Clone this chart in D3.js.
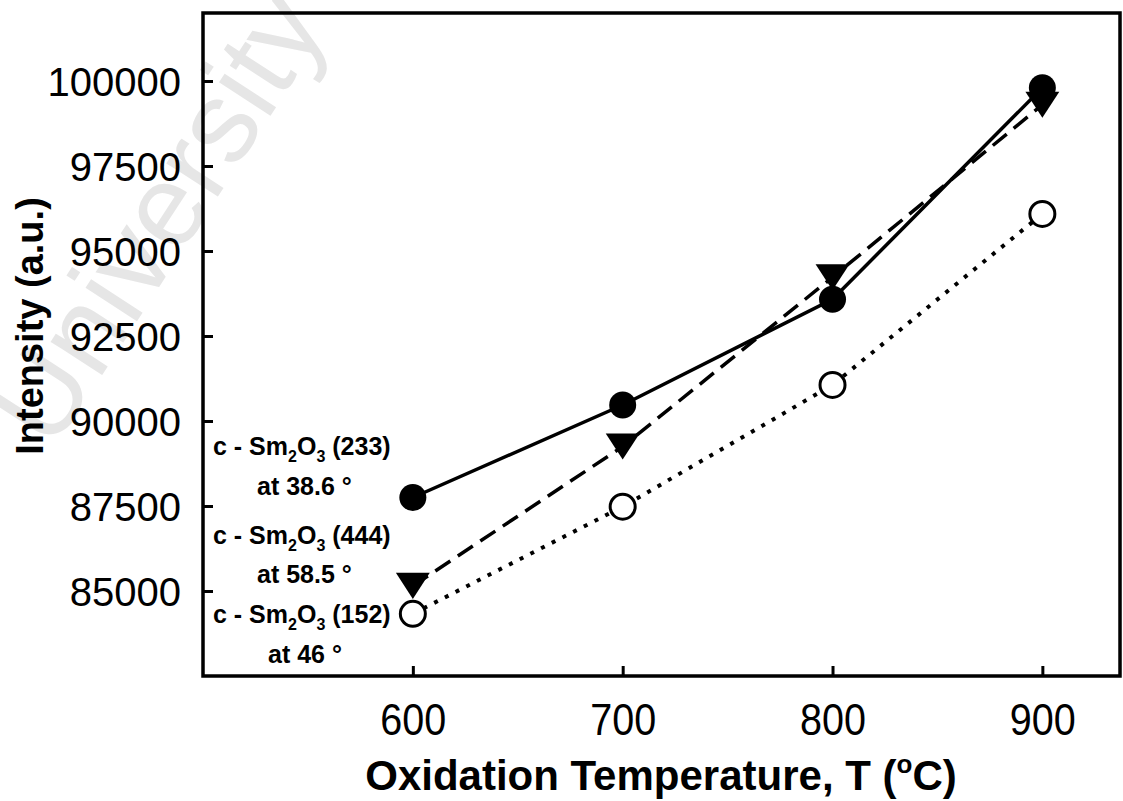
<!DOCTYPE html>
<html>
<head>
<meta charset="utf-8">
<script src="https://cdn.jsdelivr.net/npm/d3@7"></script>
<style>
  html, body { margin: 0; padding: 0; background: #fff; }
  svg { display: block; font-family: "Liberation Sans", Arial, sans-serif; }
</style>
</head>
<body>
<svg id="chart" width="1123" height="801"></svg>
<script>
// Oxidation temperature (°C)
const temperatures = [600, 700, 800, 900];
// Peak intensities (a.u.) of the c-Sm2O3 reflections
const peak233 = [87750, 90470, 93580, 99800];   // at 38.6°
const peak444 = [85150, 89250, 94230, 99300];   // at 58.5°
const peak152 = [84330, 87480, 91060, 96090];   // at 46°

const xTicks = [600, 700, 800, 900];
const yTicks = [85000, 87500, 90000, 92500, 95000, 97500, 100000];

const svg = d3.select("#chart");
const W = 1123, H = 801;
const plot = { left: 203, right: 1120, top: 13, bottom: 676 };

const x = d3.scaleLinear().domain([500, 937]).range([plot.left, plot.right]);
const y = d3.scaleLinear().domain([82500, 102000]).range([plot.bottom, plot.top]);

svg.append("rect").attr("width", W).attr("height", H).attr("fill", "#fff");

// faint background lettering
svg.append("text")
  .attr("transform", "translate(52,452) rotate(-57)")
  .attr("font-size", 116)
  .attr("fill", "#e6e6e6")
  .attr("font-family", "Liberation Sans, Arial, sans-serif")
  .text("University");

// axes with inward ticks
const yAxis = d3.axisLeft(y).tickValues(yTicks).tickSize(-10).tickPadding(0).tickFormat(d3.format("d"));
const xAxis = d3.axisBottom(x).tickValues(xTicks).tickSize(-10).tickPadding(0).tickFormat(d3.format("d"));

const gy = svg.append("g").attr("transform", `translate(${plot.left},0)`).call(yAxis);
gy.select(".domain").remove();
gy.selectAll(".tick line").attr("stroke", "#000").attr("stroke-width", 3);
gy.selectAll(".tick text")
  .attr("x", -22).attr("dy", "0.36em")
  .attr("font-size", 40).attr("fill", "#000")
  .attr("font-family", "Liberation Sans, Arial, sans-serif");

const gx = svg.append("g").attr("transform", `translate(0,${plot.bottom})`).call(xAxis);
gx.select(".domain").remove();
gx.selectAll(".tick line").attr("stroke", "#000").attr("stroke-width", 3);
gx.selectAll(".tick text")
  .attr("y", 59).attr("dy", 0)
  .attr("font-size", 44).attr("fill", "#000")
  .attr("font-family", "Liberation Sans, Arial, sans-serif")
  .attr("textLength", 66).attr("lengthAdjust", "spacingAndGlyphs");

// frame
svg.append("rect")
  .attr("x", plot.left).attr("y", plot.top)
  .attr("width", plot.right - plot.left).attr("height", plot.bottom - plot.top)
  .attr("fill", "none").attr("stroke", "#000").attr("stroke-width", 3.5);

// axis titles
svg.append("text")
  .attr("transform", `translate(43,326) rotate(-90)`)
  .attr("text-anchor", "middle")
  .attr("font-size", 38).attr("font-weight", "bold").attr("fill", "#000")
  .text("Intensity (a.u.)");

const xt = svg.append("text")
  .attr("x", 661).attr("y", 790)
  .attr("text-anchor", "middle")
  .attr("font-size", 42).attr("font-weight", "bold").attr("fill", "#000");
xt.append("tspan").text("Oxidation Temperature, T (");
xt.append("tspan").attr("font-size", 26).attr("dy", -17).text("o");
xt.append("tspan").attr("dy", 17).text("C)");

// series
const line = d3.line().x((d, i) => x(temperatures[i])).y(d => y(d));
const rows = (vals) => vals.map((v, i) => ({ t: temperatures[i], v }));

// dotted series, open circles
svg.append("path").datum(peak152).attr("d", line)
  .attr("fill", "none").attr("stroke", "#000").attr("stroke-width", 4)
  .attr("stroke-dasharray", "4,8");
svg.append("g").selectAll("circle").data(rows(peak152)).join("circle")
  .attr("cx", d => x(d.t)).attr("cy", d => y(d.v)).attr("r", 12.5)
  .attr("fill", "#fff").attr("stroke", "#000").attr("stroke-width", 3);

// dashed series, down-pointing triangles
svg.append("path").datum(peak444).attr("d", line)
  .attr("fill", "none").attr("stroke", "#000").attr("stroke-width", 3.5)
  .attr("stroke-dasharray", "18,9");
const downTriangle = {
  draw(context, size) {
    const w = Math.sqrt(size) * 1.3, h = Math.sqrt(size);
    context.moveTo(-w / 2, -h / 2);
    context.lineTo(w / 2, -h / 2);
    context.lineTo(0, h / 2);
    context.closePath();
  }
};
const tri = d3.symbol().type(downTriangle).size(680);
svg.append("g").selectAll("path").data(rows(peak444)).join("path")
  .attr("d", tri)
  .attr("transform", d => `translate(${x(d.t)},${y(d.v)})`)
  .attr("fill", "#000");

// solid series, filled circles
svg.append("path").datum(peak233).attr("d", line)
  .attr("fill", "none").attr("stroke", "#000").attr("stroke-width", 3.5);
svg.append("g").selectAll("circle").data(rows(peak233)).join("circle")
  .attr("cx", d => x(d.t)).attr("cy", d => y(d.v)).attr("r", 13.5)
  .attr("fill", "#000");

// series labels
const labels = [
  { hkl: "(233)", angle: "at 38.6 °", y1: 455, y2: 495, x2: 257 },
  { hkl: "(444)", angle: "at 58.5 °", y1: 544, y2: 583, x2: 257 },
  { hkl: "(152)", angle: "at 46 °",   y1: 623, y2: 663, x2: 268 }
];
labels.forEach(l => {
  const t = svg.append("text").attr("x", 213).attr("y", l.y1)
    .attr("font-size", 25).attr("font-weight", "bold").attr("fill", "#000");
  t.append("tspan").text("c - Sm");
  t.append("tspan").attr("font-size", 16).attr("dy", 7).text("2");
  t.append("tspan").attr("dy", -7).text("O");
  t.append("tspan").attr("font-size", 16).attr("dy", 7).text("3");
  t.append("tspan").attr("dy", -7).text(" " + l.hkl);
  svg.append("text").attr("x", l.x2).attr("y", l.y2)
    .attr("font-size", 25).attr("font-weight", "bold").attr("fill", "#000")
    .text(l.angle);
});
</script>
</body>
</html>
